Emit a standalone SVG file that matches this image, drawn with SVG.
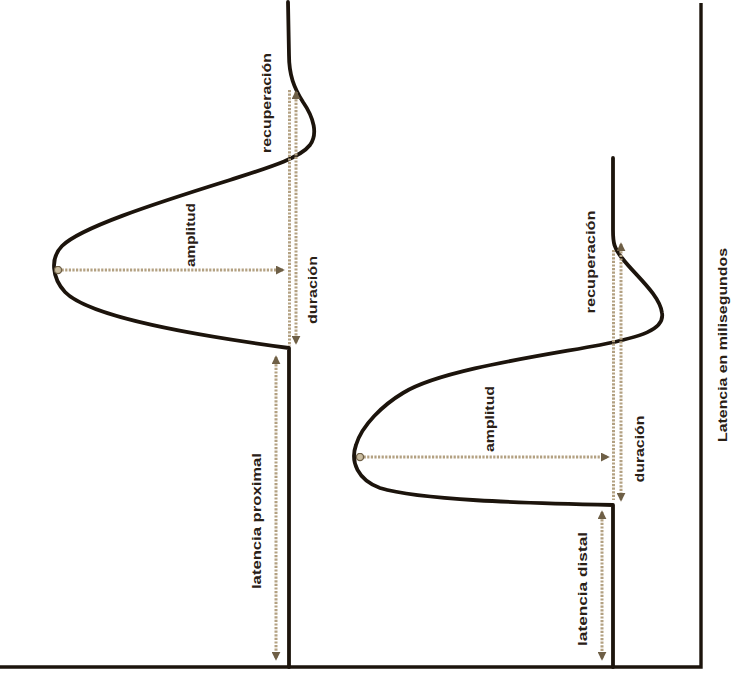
<svg xmlns="http://www.w3.org/2000/svg" width="738" height="675" viewBox="0 0 738 675">
<defs>
<style>
.trace{fill:none;stroke:#1c140c;stroke-width:3.8;stroke-linecap:round;stroke-linejoin:round}
.axis{fill:none;stroke:#1c140c;stroke-width:3.4}
.dot{fill:none;stroke:#b3a182;stroke-width:3;stroke-dasharray:2.2 1.4}
.arr2{fill:none;stroke:#b3a182;stroke-width:3;stroke-dasharray:2.2 1.4;marker-start:url(#ah);marker-end:url(#ah)}
.amp{fill:none;stroke:#b3a182;stroke-width:3;stroke-dasharray:2.2 1.4;marker-start:url(#dotm);marker-end:url(#ah)}
.lbl{font-family:"Liberation Sans",Arial,sans-serif;font-weight:bold;font-size:12.5px;fill:#2a2016;text-anchor:middle}
</style>
<marker id="ah" viewBox="0 0 10 10" refX="8" refY="5" markerWidth="3" markerHeight="3" orient="auto-start-reverse" markerUnits="strokeWidth">
<path d="M0,0 L10,5 L0,10 z" fill="#6e5f46"/>
</marker>
<marker id="dotm" viewBox="0 0 10 10" refX="5" refY="5" markerWidth="3" markerHeight="3" orient="auto" markerUnits="strokeWidth">
<circle cx="5" cy="5" r="4" fill="#c9bca0" stroke="#6e5f46" stroke-width="1.5"/>
</marker>
</defs>

<g id="axes">
<path class="axis" d="M0,667 L701,667 L701,3"/>
</g>

<g id="trace-proximal">
<path class="trace" d="M289,667 L289,348 C200,336 90,318 65,292 C52,278 50,258 62,246 C80,228 150,205 230,180 C270,167 300,158 310,145 C318,134 314,118 303,102 C294,88 289,75 289,55 L288,2"/>
</g>

<g id="trace-distal">
<path class="trace" d="M613,667 L613,505 C520,503 420,500 380,488 C358,480 350,462 356,445 C362,425 383,405 403,393 C440,370 540,356 600,345 C640,337 665,330 662,313 C660,295 635,275 622,258 C614,248 613,243 613,230 L613,158"/>
</g>

<g id="connectors">
<path class="arr2" d="M276,357 L276,659"/>
<path class="amp" d="M58,270 L283,270"/>
<path class="dot" d="M289.5,90 L289.5,346"/>
<path class="arr2" d="M296,92 L296,343"/>
<path class="arr2" d="M602,512 L602,659"/>
<path class="amp" d="M360,457 L608,457"/>
<path class="dot" d="M613.5,250 L613.5,500"/>
<path class="arr2" d="M621,244 L621,500"/>
</g>

<g id="labels">
<text class="lbl" transform="translate(271,103) rotate(-90)" textLength="100" lengthAdjust="spacingAndGlyphs">recuperación</text>
<text class="lbl" transform="translate(195,235) rotate(-90)" textLength="64" lengthAdjust="spacingAndGlyphs">amplitud</text>
<text class="lbl" transform="translate(317,290) rotate(-90)" textLength="68" lengthAdjust="spacingAndGlyphs">duración</text>
<text class="lbl" transform="translate(261,521) rotate(-90)" textLength="136" lengthAdjust="spacingAndGlyphs">latencia proximal</text>
<text class="lbl" transform="translate(494,419) rotate(-90)" textLength="66" lengthAdjust="spacingAndGlyphs">amplitud</text>
<text class="lbl" transform="translate(644,449) rotate(-90)" textLength="67" lengthAdjust="spacingAndGlyphs">duración</text>
<text class="lbl" transform="translate(595,262) rotate(-90)" textLength="103" lengthAdjust="spacingAndGlyphs">recuperación</text>
<text class="lbl" transform="translate(587,589) rotate(-90)" textLength="114" lengthAdjust="spacingAndGlyphs">latencia distal</text>
<text class="lbl" transform="translate(727,345) rotate(-90)" textLength="194" lengthAdjust="spacingAndGlyphs">Latencia en milisegundos</text>
</g>
</svg>
